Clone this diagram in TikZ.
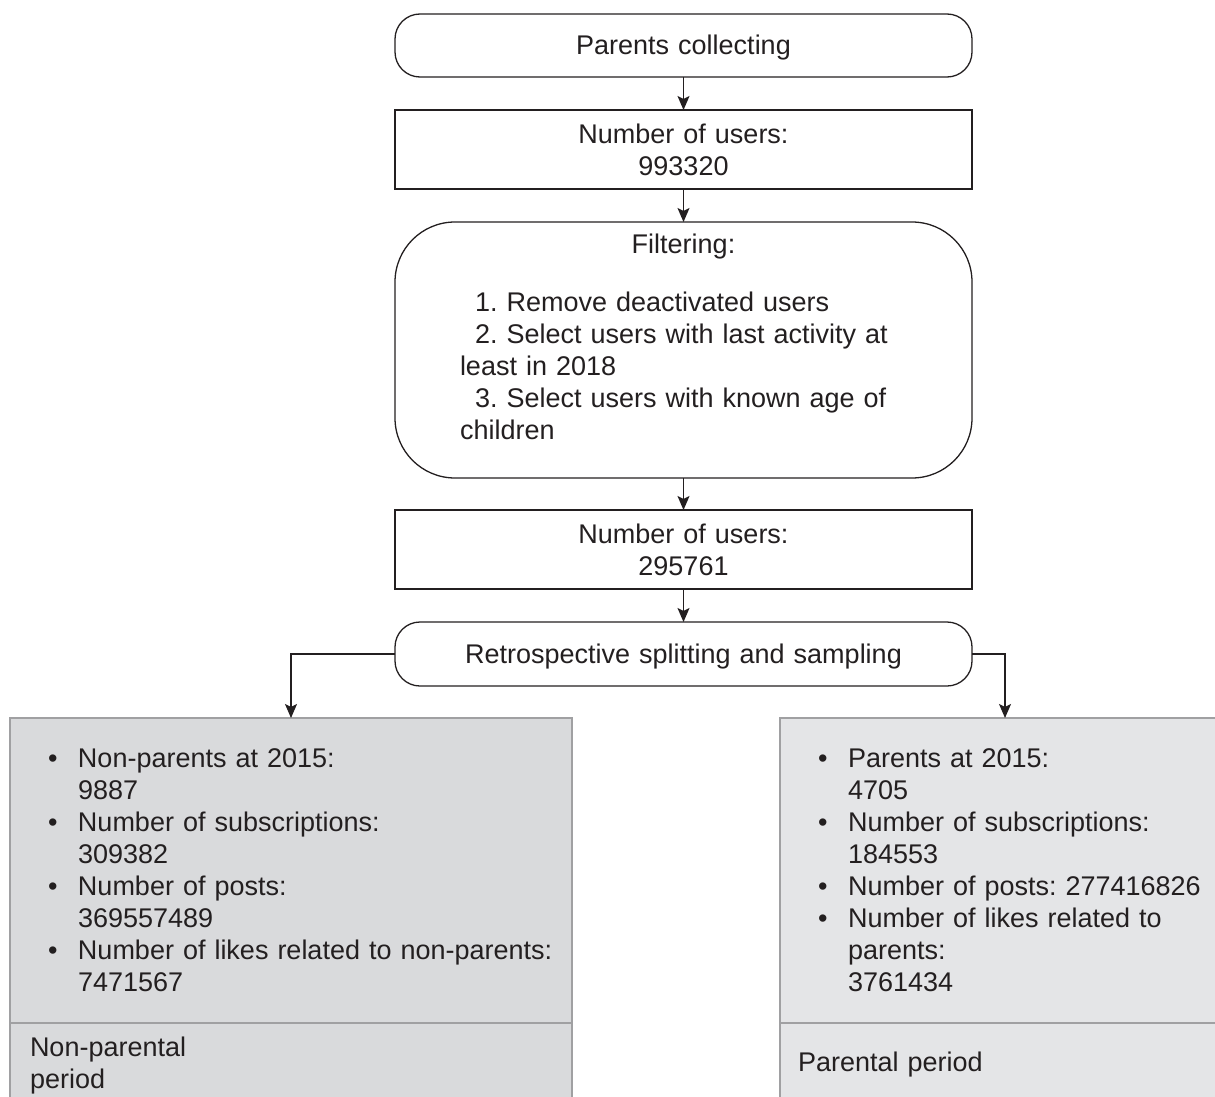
\documentclass[tikz,border=0pt]{standalone}
\usepackage{fontspec}
\setmainfont{Liberation Sans}
\usepackage{xcolor}
\definecolor{ink}{RGB}{35,31,32}
\definecolor{frame_gray}{RGB}{160,160,162}
\definecolor{left_gray}{RGB}{217,218,220}
\definecolor{right_gray}{RGB}{228,229,231}
\usetikzlibrary{positioning,arrows.meta}
\newcommand{\statitem}[1]{\noindent\hangindent=58pt\hangafter=1\hbox to 58pt{\hspace*{28pt}\textbullet\hfil}#1\par}

\begin{document}
\begin{tikzpicture}[x=1pt, y=1pt, font=\fontsize{27}{32}\selectfont\frenchspacing, text=ink,
  stepbox/.style={draw=ink, line width=1.3pt, inner sep=0pt, outer sep=0pt, text width=577pt, align=center},
  roundbox/.style={stepbox, rounded corners=25pt},
  panel/.style={draw=frame_gray, line width=1.5pt, inner ysep=0pt, outer sep=0pt, align=left},
  flow/.style={draw=ink, line width=1.3pt, -{Stealth[length=14pt,width=12pt,inset=3pt]}}]
\useasboundingbox (0,0) rectangle (1215,-1097);
\clip (0,0) rectangle (1215,-1097);

\node[roundbox, anchor=north, text height=41pt, text depth=22pt] (collect) at (683.5,-14) {Parents collecting};
\node[stepbox, text height=33.5pt, text depth=45.5pt, below=33pt of collect] (users_all) {Number of users:\\993320};
\node[roundbox, rounded corners=60pt, inner xsep=65pt, text width=447pt, align=left,
  text height=31.5pt, text depth=224.5pt, below=33pt of users_all] (filtering)
  {{\centering Filtering:\par}\vspace{26pt}%
   \hspace*{15pt}1. Remove deactivated users\par
   \hspace*{15pt}2. Select users with last activity at\newline least in 2018\par
   \hspace*{15pt}3. Select users with known age of\newline children};
\node[stepbox, text height=33.5pt, text depth=45.5pt, below=32pt of filtering] (users_kept) {Number of users:\\295761};
\node[roundbox, text height=41.5pt, text depth=22.5pt, below=33pt of users_kept] (splitting) {Retrospective splitting and sampling};

% the two periods
\node[panel, fill=left_gray, anchor=north west, inner xsep=10pt, text width=542pt,
  text height=49.5pt, text depth=255.5pt] (nonpar_stats) at (10,-718)
  {\statitem{Non-parents at 2015:\newline 9887}
   \statitem{Number of subscriptions:\newline 309382}
   \statitem{Number of posts:\newline 369557489}
   \statitem{Number of likes related to non-parents:\newline 7471567}};
\node[panel, fill=left_gray, anchor=north, inner xsep=20pt, text width=522pt,
  text height=33.5pt, text depth=63.5pt] (nonpar_period) at (nonpar_stats.south) {Non-parental\\period};

\node[panel, fill=right_gray, anchor=north west, inner xsep=10pt, text width=430pt,
  text height=49.5pt, text depth=255.5pt] (par_stats) at (780,-718)
  {\statitem{Parents at 2015:\newline 4705}
   \statitem{Number of subscriptions:\newline 184553}
   \statitem{Number of posts: 277416826}
   \statitem{Number of likes related to\newline parents:\newline 3761434}};
\node[panel, fill=right_gray, anchor=north, inner xsep=18pt, text width=414pt,
  text height=48.5pt, text depth=48.5pt] (par_period) at (par_stats.south) {Parental period};

\draw[flow] (collect) -- (users_all);
\draw[flow] (users_all) -- (filtering);
\draw[flow] (filtering) -- (users_kept);
\draw[flow] (users_kept) -- (splitting);
\draw[flow] (splitting.west) -| (nonpar_stats.north);
\draw[flow] (splitting.east) -| (par_stats.north);
\end{tikzpicture}
\end{document}
